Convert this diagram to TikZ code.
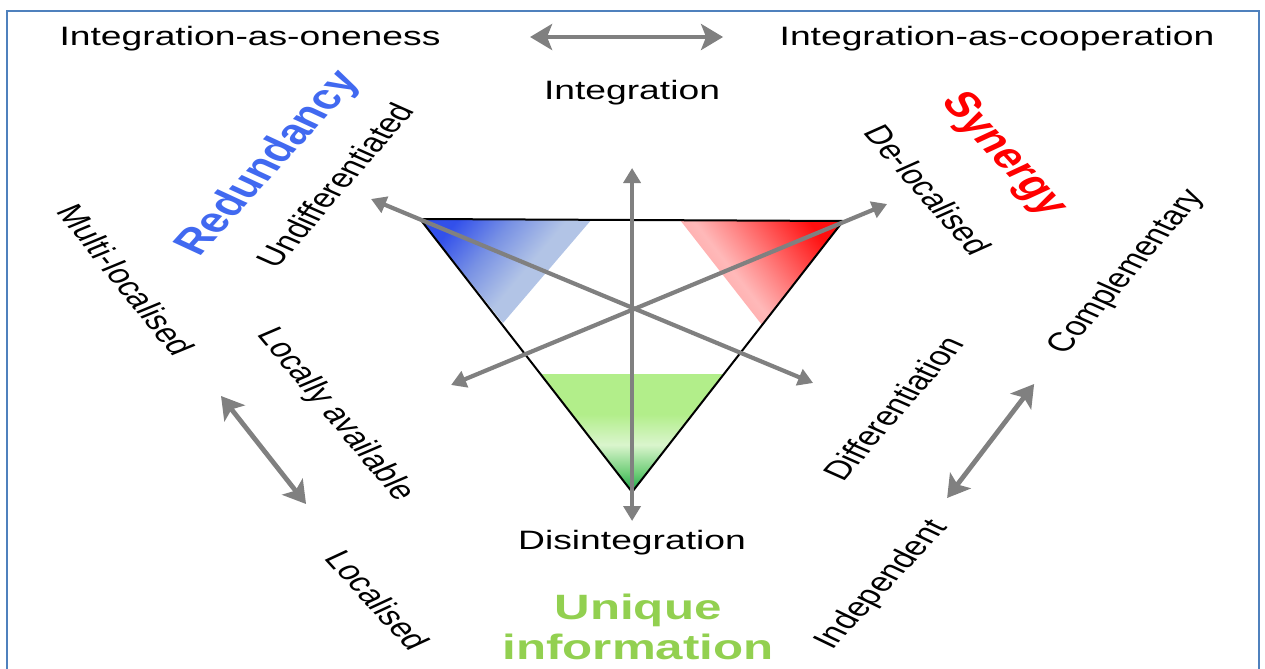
\documentclass[tikz,border=0pt]{standalone}
\usepackage{fontspec}
\setmainfont{Liberation Sans}
\usetikzlibrary{arrows.meta}
\definecolor{frameblue}{RGB}{79,129,189}
\definecolor{arrgray}{RGB}{128,128,128}
\definecolor{redund}{RGB}{65,105,240}
\definecolor{synred}{RGB}{255,0,0}
\definecolor{uniqgreen}{RGB}{146,208,80}
\definecolor{bA}{RGB}{50,80,235}
\definecolor{bB}{RGB}{120,145,228}
\definecolor{bC}{RGB}{178,196,230}
\definecolor{rA}{RGB}{255,155,155}
\definecolor{rB}{RGB}{255,185,185}
\definecolor{rC}{RGB}{255,135,135}
\definecolor{rD}{RGB}{255,15,15}
\definecolor{gA}{RGB}{25,165,70}
\definecolor{gB}{RGB}{110,205,120}
\definecolor{gC}{RGB}{218,245,205}
\definecolor{gD}{RGB}{178,238,138}
\pgfdeclarehorizontalshading{blueshade}{100bp}{color(0bp)=(bA); color(25bp)=(bA); color(40bp)=(bB); color(55bp)=(bC); color(100bp)=(bC)}
\pgfdeclarehorizontalshading{redshade}{100bp}{color(0bp)=(rA); color(25bp)=(rA); color(42bp)=(rB); color(52bp)=(rC); color(75bp)=(rD); color(100bp)=(rD)}
\pgfdeclareverticalshading{greenshade}{100bp}{color(0bp)=(gA); color(25bp)=(gA); color(33bp)=(gB); color(45bp)=(gC); color(58bp)=(gD); color(100bp)=(gD)}
\tikzset{
  lbl/.style={font=\fontsize{13.3}{16}\selectfont, inner sep=0pt},
  big/.style={font=\fontsize{17.6}{20}\selectfont\bfseries, inner sep=0pt},
  carrow/.style={draw=arrgray, line width=2.1pt, {Triangle[length=7.5pt,width=8.5pt]}-{Triangle[length=7.5pt,width=8.5pt]}},
  oarrow/.style={draw=arrgray, line width=2.4pt, {Stealth[length=11pt,width=13pt,inset=2.5pt]}-{Stealth[length=11pt,width=13pt,inset=2.5pt]}},
}
\begin{document}
\begin{tikzpicture}[x=0.357142857pt, y=-0.5pt, xscale=1.4, transform shape]
\useasboundingbox (0,0) rectangle (1265,669);
\draw[frameblue, line width=1.2pt] (7,700) -- (7,11) -- (1259,11) -- (1259,700);
% triangle vertices
\coordinate (tl) at (420,219);
\coordinate (tr) at (843,221);
\coordinate (tb) at (632,492);
% shaded corners
\shade[shading=blueshade, shading angle=-40] (tl) -- (592,219) -- (503,323) -- cycle;
\shade[shading=redshade, shading angle=38] (680,220) -- (tr) -- (762,325) -- cycle;
\shade[shading=greenshade] (541,374) -- (724,374) -- (tb) -- cycle;
\draw[black, line width=1pt] (tl) -- (tr) -- (tb) -- cycle;
% central arrows
\coordinate (vtop) at (632,168);
\coordinate (vbot) at (632,521);
\coordinate (d1a) at (371,199);
\coordinate (d1b) at (813,383);
\coordinate (d2a) at (451,385);
\coordinate (d2b) at (887,204);
\draw[carrow] (vbot) -- (vtop);
\draw[carrow] (d1a) -- (d1b);
\draw[carrow] (d2a) -- (d2b);
% outer arrows
\coordinate (ta) at (530,37);
\coordinate (tb2) at (723,37);
\coordinate (la) at (221,396);
\coordinate (lb) at (306,504);
\coordinate (ra) at (1034,384);
\coordinate (rb) at (947,498);
\draw[oarrow] (ta) -- (tb2);
\draw[oarrow] (la) -- (lb);
\draw[oarrow] (ra) -- (rb);
% labels
\node[lbl] (ioneness) at (250,39) {Integration-as-oneness};
\node[lbl] (icoop) at (997,39) {Integration-as-cooperation};
\node[lbl] (integ) at (632,93) {Integration};
\node[lbl] (disint) at (632,543) {Disintegration};
\node[big, text=redund, rotate=57] (redundancy) at (269,164) {Redundancy};
\node[big, text=synred, rotate=-57] (synergy) at (1003,155) {Synergy};
\node[big, text=uniqgreen, align=center] (unique) at (638,627) {Unique\\information};
\node[lbl, rotate=58] (undiff) at (335,185) {Undifferentiated};
\node[lbl, rotate=-60] (multi) at (126,280) {Multi-localised};
\node[lbl, rotate=-59] (locav) at (335,415) {Locally available};
\node[lbl, rotate=-57] (localised) at (378,600) {Localised};
\node[lbl, rotate=-58] (deloc) at (928,190) {De-localised};
\node[lbl, rotate=58] (compl) at (1127,272) {Complementary};
\node[lbl, rotate=58] (differ) at (893,408) {Differentiation};
\node[lbl, rotate=56] (indep) at (882,585) {Independent};
\end{tikzpicture}
\end{document}
